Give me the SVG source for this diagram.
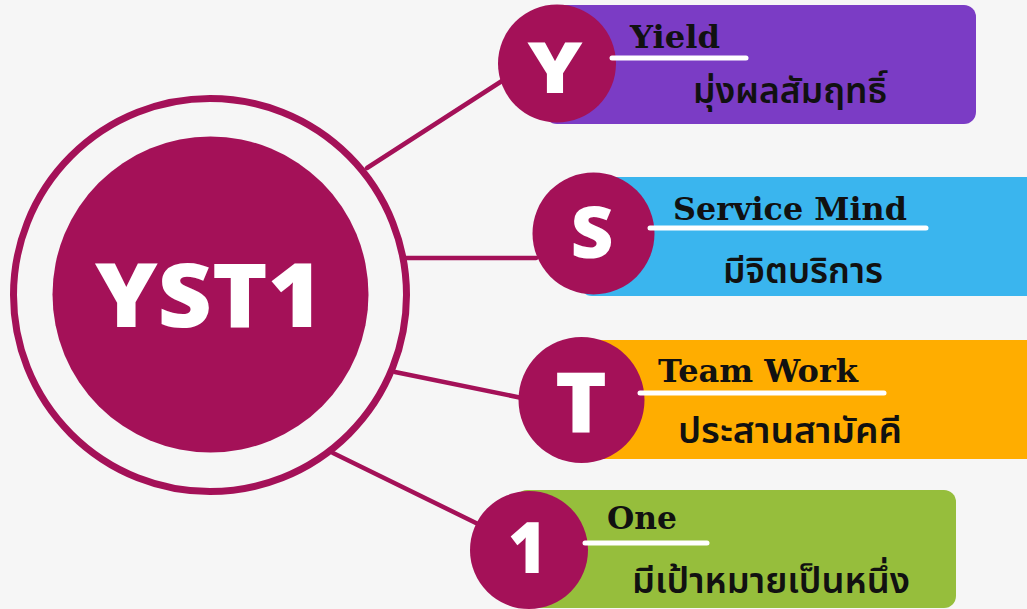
<svg xmlns="http://www.w3.org/2000/svg" width="1027" height="609" viewBox="0 0 1027 609">
<style>
.bg{fill:#f6f6f6}
.dot{fill:#a41158}
.con{stroke:#a41158;stroke-width:4.5;fill:none;stroke-linecap:round}
.ul{stroke:#ffffff;stroke-width:5;stroke-linecap:round}
.en{font-family:"DejaVu Serif","Liberation Serif",serif;font-weight:bold;font-size:31px;fill:#111}
.th{font-family:"Noto Sans Thai","Noto Sans","DejaVu Sans",sans-serif;font-size:35px;font-weight:600;fill:#111}
.big{font-family:"Open Sans","Liberation Sans",sans-serif;font-weight:800;fill:#ffffff;text-anchor:middle}
</style>
<rect class="bg" x="0" y="0" width="1027" height="609"/>
<g id="connectors">
<line class="con" x1="367" y1="168" x2="505" y2="79"/>
<line class="con" x1="405" y1="258" x2="536" y2="258"/>
<line class="con" x1="395" y1="372" x2="522" y2="398"/>
<line class="con" x1="333" y1="453" x2="478" y2="524"/>
</g>
<g id="center">
<circle cx="210" cy="295" r="196.5" fill="none" stroke="#a41158" stroke-width="7"/>
<circle class="dot" cx="210.5" cy="294.5" r="158"/>
<text class="big" x="209" y="327" font-size="89" textLength="228" lengthAdjust="spacingAndGlyphs">YST1</text>
</g>
<g id="node-y">
<rect x="545" y="5" width="431" height="119" rx="12" fill="#7b3cc5"/>
<circle class="dot" cx="557" cy="63.5" r="59"/>
<text class="big" x="555" y="93" font-size="71" textLength="55" lengthAdjust="spacingAndGlyphs">Y</text>
<line class="ul" x1="612" y1="58" x2="746" y2="58"/>
<text class="en" x="630" y="48" textLength="90" lengthAdjust="spacingAndGlyphs">Yield</text>
<text class="th" x="693" y="103" textLength="194" lengthAdjust="spacingAndGlyphs">มุ่งผลสัมฤทธิ์</text>
</g>
<g id="node-s">
<rect x="580" y="177" width="470" height="119" rx="12" fill="#3ab5ee"/>
<circle class="dot" cx="593.5" cy="233.5" r="61"/>
<text class="big" x="592" y="258" font-size="71" textLength="43" lengthAdjust="spacingAndGlyphs">S</text>
<line class="ul" x1="650" y1="228" x2="926" y2="228"/>
<text class="en" x="673" y="220" textLength="234" lengthAdjust="spacingAndGlyphs">Service Mind</text>
<text class="th" x="723" y="283" textLength="160" lengthAdjust="spacingAndGlyphs">มีจิตบริการ</text>
</g>
<g id="node-t">
<rect x="570" y="340" width="480" height="119" rx="12" fill="#ffad00"/>
<circle class="dot" cx="581.5" cy="400" r="63"/>
<text class="big" x="581" y="432" font-size="83" textLength="52" lengthAdjust="spacingAndGlyphs">T</text>
<line class="ul" x1="640" y1="393" x2="884" y2="393"/>
<text class="en" x="658" y="382" textLength="200" lengthAdjust="spacingAndGlyphs">Team Work</text>
<text class="th" x="678" y="443" textLength="224" lengthAdjust="spacingAndGlyphs">ประสานสามัคคี</text>
</g>
<g id="node-1">
<rect x="515" y="490" width="441" height="118" rx="12" fill="#96be3c"/>
<circle class="dot" cx="529" cy="550" r="59"/>
<text class="big" x="527.5" y="573" font-size="71" textLength="39" lengthAdjust="spacingAndGlyphs">1</text>
<line class="ul" x1="585" y1="543" x2="707" y2="543"/>
<text class="en" x="607" y="529" textLength="70" lengthAdjust="spacingAndGlyphs">One</text>
<text class="th" x="632" y="593" textLength="278" lengthAdjust="spacingAndGlyphs">มีเป้าหมายเป็นหนึ่ง</text>
</g>
</svg>
